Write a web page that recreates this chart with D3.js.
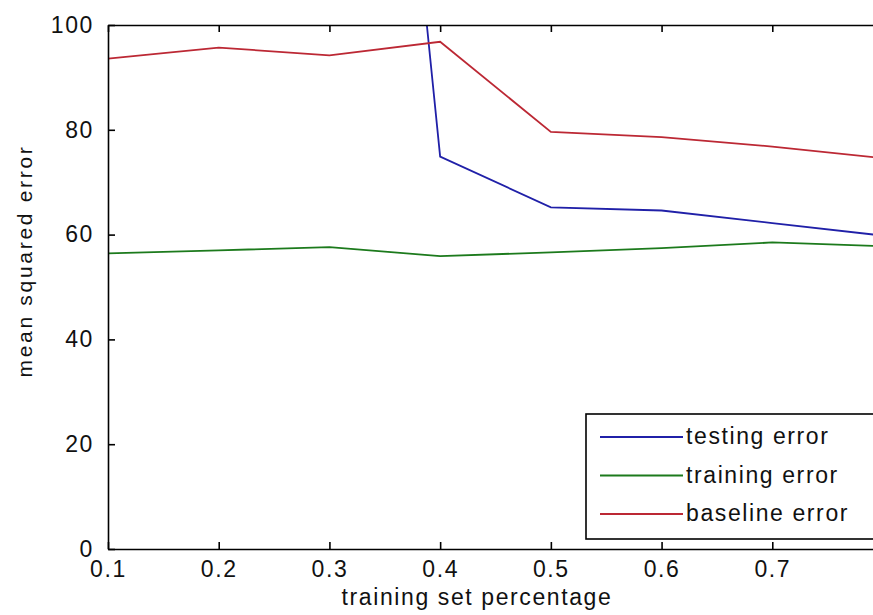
<!DOCTYPE html>
<html>
<head>
<meta charset="utf-8">
<script src="https://cdn.jsdelivr.net/npm/d3@7"></script>
<style>
  body { margin: 0; background: #fff; }
  svg { display: block; }
  .tick text, .lbl, .leg text {
    font-family: "Liberation Sans", Arial, sans-serif;
    font-size: 23px;
    letter-spacing: 1.6px;
    fill: #111;
  }
  .lbl.ylbl { font-size: 21px; letter-spacing: 2.7px; }
</style>
</head>
<body>
<div id="chart"></div>
<script>
// training set fraction along the x axis
var fractions = [0.1, 0.2, 0.3, 0.4, 0.5, 0.6, 0.7, 0.8];

// mean squared error per series (testing error is off the top before 0.3)
var testingErr = [null, null, 284, 74.9, 65.2, 64.6, 62.2, 59.8];
var trainingErr = [56.4, 57.0, 57.6, 55.9, 56.6, 57.4, 58.5, 57.8];
var baselineErr = [93.6, 95.7, 94.2, 96.8, 79.6, 78.6, 76.8, 74.6];

var seriesNames = ["testing error", "training error", "baseline error"];
var seriesColors = ["#2020a8", "#1c7a1c", "#bc2834"];

var xTicks = [0.1, 0.2, 0.3, 0.4, 0.5, 0.6, 0.7];
var yTicks = [0, 20, 40, 60, 80, 100];

var width = 873, height = 615;

// plot box (the right side runs past the picture edge, like the original)
var boxLeft = 108, boxTop = 25, boxBottom = 549, boxRight = 883;

var svg = d3.select("#chart")
  .append("svg")
  .attr("width", width)
  .attr("height", height);

var x = d3.scaleLinear().domain([0.1, 0.8]).range([boxLeft, boxRight]);
var y = d3.scaleLinear().domain([0, 100]).range([boxBottom, boxTop]);

svg.append("defs").append("clipPath").attr("id", "plotClip")
  .append("rect")
  .attr("x", boxLeft).attr("y", boxTop)
  .attr("width", boxRight - boxLeft).attr("height", boxBottom - boxTop);

// lines first, axes drawn over them
var line = d3.line()
  .defined(function(d) { return d != null; })
  .x(function(d, i) { return x(fractions[i]); })
  .y(function(d) { return y(d); });

var allSeries = [testingErr, trainingErr, baselineErr];

svg.append("g")
  .attr("clip-path", "url(#plotClip)")
  .selectAll("path")
  .data(allSeries)
  .enter()
  .append("path")
  .attr("d", line)
  .attr("fill", "none")
  .attr("stroke", function(d, i) { return seriesColors[i]; })
  .attr("stroke-width", 1.8);

function styleAxis(g) {
  g.select(".domain").attr("stroke", "#000").attr("stroke-width", 1.6);
  g.selectAll(".tick line").attr("stroke", "#000").attr("stroke-width", 1.6);
  g.attr("font-family", null).attr("font-size", null);
}

// bottom axis with ticks pointing inward
svg.append("g")
  .attr("transform", "translate(0," + boxBottom + ")")
  .call(d3.axisBottom(x).tickValues(xTicks).tickFormat(d3.format(".1f"))
    .tickSizeInner(-7).tickSizeOuter(0).tickPadding(12))
  .call(styleAxis);

// top axis, ticks only
svg.append("g")
  .attr("transform", "translate(0," + boxTop + ")")
  .call(d3.axisTop(x).tickValues(xTicks).tickFormat("")
    .tickSizeInner(-7).tickSizeOuter(0))
  .call(styleAxis);

// left axis
svg.append("g")
  .attr("transform", "translate(" + boxLeft + ",0)")
  .call(d3.axisLeft(y).tickValues(yTicks).tickFormat(d3.format("d"))
    .tickSizeInner(-7).tickSizeOuter(0).tickPadding(14))
  .call(styleAxis);

// axis titles
svg.append("text")
  .attr("class", "lbl")
  .attr("x", 477)
  .attr("y", 605)
  .attr("text-anchor", "middle")
  .text("training set percentage");

svg.append("text")
  .attr("class", "lbl ylbl")
  .attr("transform", "translate(32,261)rotate(-90)")
  .attr("text-anchor", "middle")
  .text("mean squared error");

// legend box
var leg = svg.append("g").attr("class", "leg");

leg.append("rect")
  .attr("x", 586)
  .attr("y", 414)
  .attr("width", 320)
  .attr("height", 125)
  .attr("fill", "#fff")
  .attr("stroke", "#000")
  .attr("stroke-width", 1.6);

var rows = leg.selectAll("g.row")
  .data(seriesNames)
  .enter()
  .append("g")
  .attr("class", "row")
  .attr("transform", function(d, i) { return "translate(0," + (437 + i * 38.5) + ")"; });

rows.append("line")
  .attr("x1", 600).attr("x2", 683)
  .attr("y1", 0).attr("y2", 0)
  .attr("stroke", function(d, i) { return seriesColors[i]; })
  .attr("stroke-width", 1.8);

rows.append("text")
  .attr("x", 686)
  .attr("y", 7)
  .text(function(d) { return d; });
</script>
</body>
</html>
